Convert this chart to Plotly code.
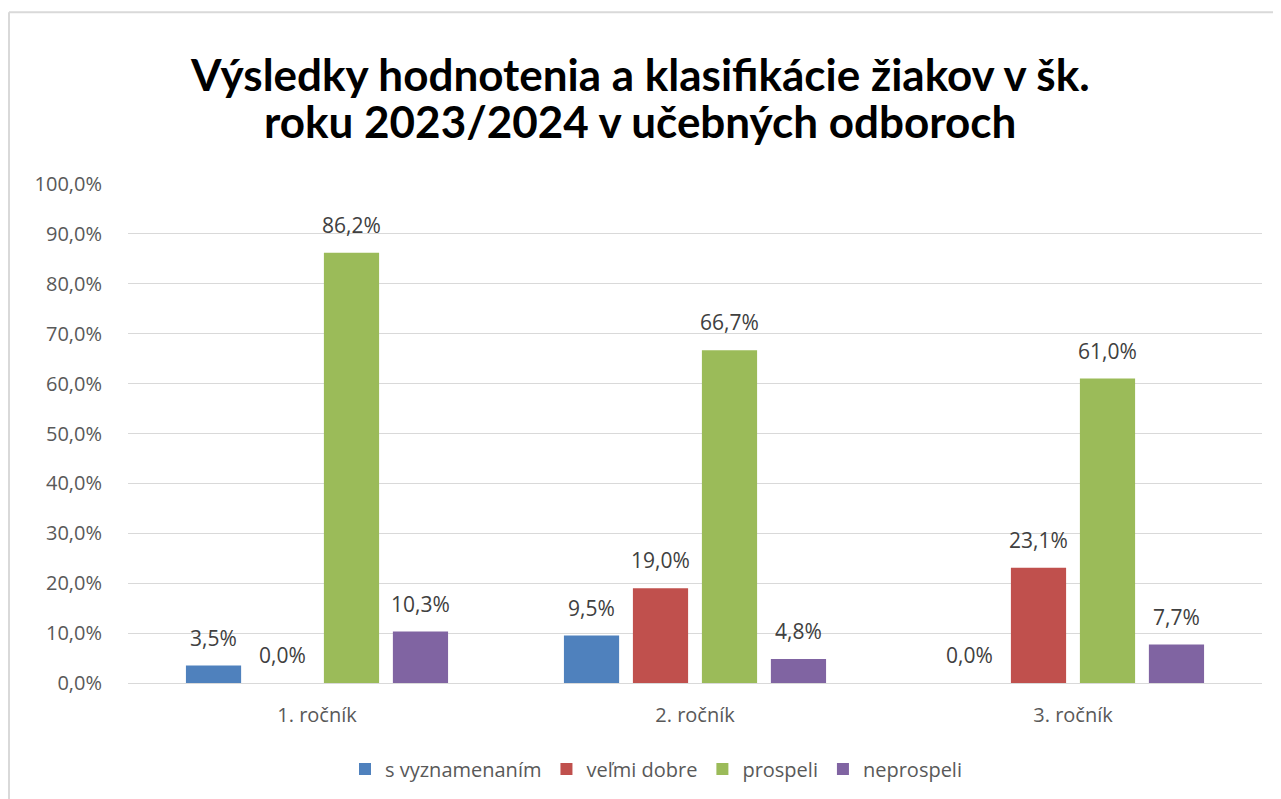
import plotly.graph_objects as go

categories = ["1. ročník", "2. ročník", "3. ročník"]
series_names = ["s vyznamenaním", "veľmi dobre", "prospeli", "neprospeli"]
s_vyznamenanim = [3.5, 9.5, 0.0]
velmi_dobre = [0.0, 19.0, 23.1]
prospeli = [86.2, 66.7, 61.0]
neprospeli = [10.3, 4.8, 7.7]
tick_values = [0, 10, 20, 30, 40, 50, 60, 70, 80, 90, 100]
tick_labels = ["0,0%", "10,0%", "20,0%", "30,0%", "40,0%", "50,0%",
               "60,0%", "70,0%", "80,0%", "90,0%", "100,0%"]
title_lines = ["Výsledky hodnotenia a klasifikácie žiakov v šk.",
               "roku 2023/2024 v učebných odboroch"]

colors = ["#4F81BD", "#C0504D", "#9BBB59", "#8064A2"]
FONT = "'Open Sans', sans-serif"
TFONT = "Lato, sans-serif"

series = [s_vyznamenanim, velmi_dobre, prospeli, neprospeli]

fig = go.Figure()
for name, vals, col in zip(series_names, series, colors):
    fig.add_trace(go.Bar(
        x=categories, y=vals, name=name,
        marker=dict(color=col, line=dict(width=0)),
    ))
# data labels as grouped text traces (aligned with the bars)
for name, vals in zip(series_names, series):
    fig.add_trace(go.Scatter(
        x=categories, y=vals, mode="markers+text", showlegend=False, hoverinfo="skip",
        marker=dict(size=22, opacity=0),
        texttemplate="%{y:.1f}%", textposition="top center",
        textfont=dict(size=21, color="#404040", family=FONT),
        cliponaxis=False,
    ))

# page is offset by 8px body margin; work in figure pixels = reference - 8
OFF = 8
W, H = 1281 - OFF, 799 - OFF
L, R, T, B = 128 - OFF, 19, 184 - OFF, 115
pw = W - L - R
ph = H - T - B

def px_x(p):
    return (p - OFF - L) / pw

def px_y(p):
    return (H - B - (p - OFF)) / ph

annotations = []
for line, yy in zip(title_lines, [74, 121]):
    annotations.append(dict(
        text="<b>" + line + "</b>", xref="paper", yref="paper",
        x=px_x(640), y=px_y(yy), xanchor="center", yanchor="middle",
        showarrow=False, font=dict(size=44, color="#000000", family=TFONT),
    ))

fig.update_layout(
    width=W, height=H,
    margin=dict(l=L, r=R, t=T, b=B),
    paper_bgcolor="white", plot_bgcolor="white",
    separators=", ",
    barmode="group", bargap=0.27, bargroupgap=0.2,
    scattermode="group", scattergap=0.27,
    font=dict(family=FONT, color="#595959", size=20),
    xaxis=dict(
        showgrid=False, showline=False, ticks="", ticklabelstandoff=18,
        tickfont=dict(size=20, color="#595959"),
    ),
    yaxis=dict(
        range=[0, 100], tickvals=tick_values, ticktext=tick_labels,
        showgrid=True, gridcolor="#D9D9D9", gridwidth=1.3,
        zeroline=True, zerolinecolor="#D9D9D9", zerolinewidth=1.3,
        showline=False, ticks="", ticklabelstandoff=25,
        tickfont=dict(size=20, color="#595959"),
    ),
    legend=dict(
        orientation="h", x=px_x(656), xanchor="center", y=px_y(769), yanchor="middle",
        font=dict(size=20, color="#595959"), itemwidth=30, traceorder="normal",
    ),
    annotations=annotations,
    shapes=[
        dict(type="line", xref="paper", yref="paper", x0=px_x(9), x1=px_x(1320), y0=px_y(12), y1=px_y(12),
             line=dict(color="#D9D9D9", width=2)),
        dict(type="line", xref="paper", yref="paper", x0=px_x(9), x1=px_x(9), y0=px_y(12), y1=px_y(840),
             line=dict(color="#D9D9D9", width=2)),
    ],
)

fig.write_html("out.html")
